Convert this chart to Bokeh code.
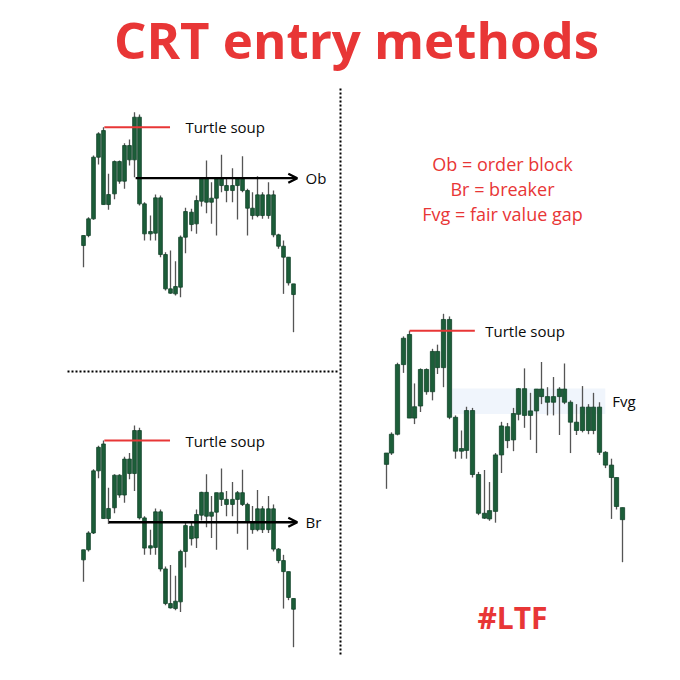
import numpy as np
from bokeh.plotting import figure
from bokeh.models import Range1d, Arrow, OpenHead
from bokeh.core.properties import value
from bokeh.embed import file_html
from bokeh.resources import INLINE

# ---- candle data (same price path shown in all three panels) ----
open_ = [26.5, 29.5, 34.5, 53.0, 61.0, 38.8, 42.0, 51.7, 45.8, 56.5,
         52.2, 65.0, 39.0, 30.0, 30.2, 40.8, 23.8, 13.5, 12.0, 14.0,
         29.0, 36.5, 33.0, 39.8, 46.6, 39.5, 40.7, 46.5, 44.5, 43.0,
         44.5, 46.5, 43.0, 37.7, 35.5, 41.7, 35.5, 41.7, 29.7, 26.3,
         23.0, 15.0]
high = [29.5, 35.0, 53.5, 60.5, 62.0, 48.0, 52.0, 52.0, 57.2, 58.3,
        66.5, 65.8, 39.5, 35.5, 41.8, 41.5, 24.5, 25.0, 21.8, 29.5,
        37.8, 37.5, 41.5, 46.8, 52.0, 45.5, 46.5, 53.7, 47.0, 49.7,
        47.0, 53.3, 43.5, 42.5, 47.3, 42.5, 45.5, 43.0, 30.0, 28.0,
        23.0, 15.0]
low = [20.0, 29.0, 34.2, 50.8, 38.8, 37.2, 40.4, 45.0, 43.5, 50.5,
       47.0, 38.5, 28.0, 28.0, 28.0, 23.0, 13.0, 12.0, 11.5, 11.0,
       24.2, 30.8, 30.0, 38.2, 36.2, 33.0, 29.5, 42.5, 39.5, 39.5,
       34.3, 42.5, 29.5, 34.3, 35.0, 34.5, 34.5, 29.0, 25.5, 12.0,
       14.5, 0.5]
close = [29.5, 34.5, 53.0, 60.0, 38.8, 41.8, 51.7, 45.8, 56.5, 52.2,
         65.0, 39.0, 30.0, 30.7, 40.8, 23.8, 13.5, 12.2, 14.2, 29.0,
         36.7, 32.8, 40.0, 46.6, 39.5, 40.7, 46.5, 44.5, 43.0, 44.5,
         46.5, 43.0, 37.7, 35.5, 41.7, 35.5, 41.7, 29.7, 26.3, 23.0,
         15.3, 11.8]

# annotation levels (price units)
turtle_level = 62.0      # swept high
ob_level = 46.7          # order block line
br_level = 37.7          # breaker line
fvg_top, fvg_bottom = 46.65, 39.9
fvg_start, fvg_end = 11.4, 37.9

title_text = "CRT entry methods"
legend_lines = ["Ob = order block", "Br = breaker", "Fvg = fair value gap"]
tag_text = "#LTF"

RED = "#e83636"
GREEN = "#1c5e39"
GREEN_EDGE = "#11432a"
WICK = "#555555"
FONT = "Open Sans"

n = len(open_)
idx = np.arange(n)
o = np.array(open_); c = np.array(close)
top = np.maximum(o, c); bot = np.minimum(o, c)
pmin, pmax = min(low), max(high)

p = figure(width=680, height=680, x_range=Range1d(0, 680), y_range=Range1d(680, 0),
           output_backend="svg", toolbar_location=None, min_border=0,
           x_axis_type=None, y_axis_type=None)
p.outline_line_color = None
p.background_fill_color = "white"
p.border_fill_color = "white"


def make_panel(xt, yt):
    return p.subplot(x_source=Range1d(0, n - 1), y_source=Range1d(pmin, pmax),
                     x_target=Range1d(*xt), y_target=Range1d(*yt))


def candles(sub, width=0.72):
    sub.segment(x0=idx, y0=low, x1=idx, y1=high, line_color=WICK, line_width=1.3)
    sub.vbar(x=idx, top=top, bottom=bot, width=width, fill_color=GREEN,
             line_color=GREEN_EDGE, line_width=0.8)


def coords_of(sub):
    return getattr(sub, "coordinates", None) or sub._coordinates


def label(sub, x, y, t, size="15px"):
    sub.text(x=[x], y=[y], text=[t], text_font=value(FONT), text_font_size=size,
             text_color="#0a0a0a", text_baseline="middle", text_align="left")


def turtle(sub, x_end, lab_x):
    sub.segment(x0=[4], y0=[turtle_level], x1=[x_end], y1=[turtle_level],
                line_color=RED, line_width=2)
    label(sub, lab_x, turtle_level, "Turtle soup")


def arrow(sub, x0, x1, level, lab):
    a = Arrow(x_start=x0, y_start=level, x_end=x1, y_end=level, line_width=2.3,
              line_color="black",
              end=OpenHead(size=9, line_width=2.3, line_color="black"))
    a.coordinates = coords_of(sub)
    p.add_layout(a)
    label(sub, 43.2, level, lab)


# panel 1 : Ob
s1 = make_panel((83.3, 293.7), (331.7, 111.7))
candles(s1)
turtle(s1, 16.8, 19.8)
arrow(s1, 10.1, 41.6, ob_level, "Ob")

# panel 2 : Br
s2 = make_panel((83.3, 293.7), (646.7, 425.0))
candles(s2)
turtle(s2, 16.8, 19.8)
arrow(s2, 4.9, 41.6, br_level, "Br")

# panel 3 : Fvg
s3 = make_panel((386.0, 622.7), (561.7, 313.3))
s3.quad(left=[fvg_start], right=[fvg_end], top=[fvg_top], bottom=[fvg_bottom],
        fill_color="#f0f5fc", line_color=None)
candles(s3, 0.74)
turtle(s3, 15.3, 17.1)
label(s3, 39.1, (fvg_top + fvg_bottom) / 2, "Fvg")

# dividers
p.segment(x0=[67, 340], y0=[371, 88], x1=[339, 340], y1=[371, 655],
          line_color="black", line_width=2, line_dash="2 2")

# texts
p.text(x=[356], y=[38], text=[title_text], text_font=value(FONT), text_font_size="51px",
       text_font_style="bold", text_color=RED, text_align="center",
       text_baseline="middle")
p.text(x=[502] * 3, y=[163, 188, 213], text=legend_lines, text_font=value(FONT),
       text_font_size="18px", text_color=RED, text_align="center",
       text_baseline="middle")
p.text(x=[512], y=[617], text=[tag_text], text_font=value(FONT), text_font_size="30px",
       text_font_style="bold", text_color=RED, text_align="center",
       text_baseline="middle")

open("out.html", "w").write(file_html(p, INLINE))
